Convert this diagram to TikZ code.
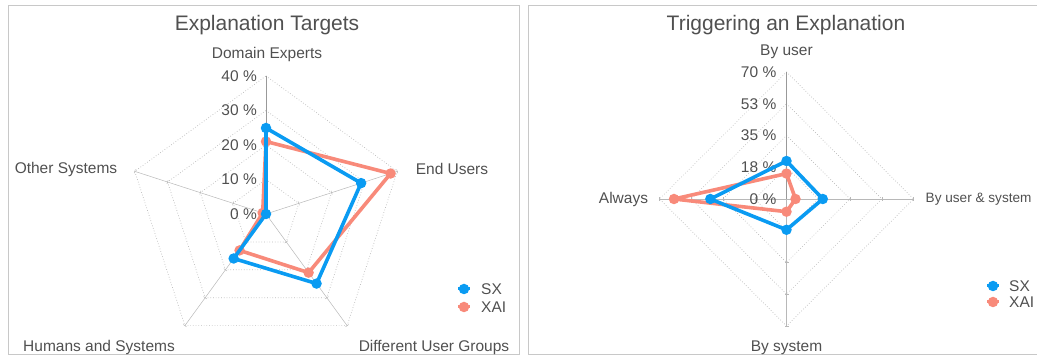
\documentclass[tikz,border=0pt]{standalone}
\usepackage{fontspec}
\setmainfont{Liberation Sans}
\definecolor{sxblue}{HTML}{0A9BF2}
\definecolor{xaisalmon}{HTML}{F88A7A}
\definecolor{txtgray}{HTML}{505050}
\definecolor{gridgray}{HTML}{B8B8B8}
\definecolor{framegray}{HTML}{C8C8C8}

\begin{document}
\begin{tikzpicture}[x=1pt,y=1pt,
    lbl/.style={text=txtgray,font=\fontsize{15.5}{18}\selectfont,inner sep=0pt},
    ttl/.style={text=txtgray,font=\fontsize{21}{24}\selectfont,inner sep=0pt},
    gridline/.style={gridgray,dotted,line width=0.7pt},
    spoke/.style={gridgray,line width=0.5pt},
    mainaxis/.style={gray!80,line width=1pt},
    sxline/.style={sxblue,line width=3.6pt,line join=round},
    xailine/.style={xaisalmon,line width=3.6pt,line join=round},
    sxdot/.style={circle,fill=sxblue,inner sep=0pt,minimum size=10.5pt},
    xaidot/.style={circle,fill=xaisalmon,inner sep=0pt,minimum size=10.5pt}]
\useasboundingbox (0,0) rectangle (1037,356);
\draw[framegray,line width=1pt] (8,1) rectangle (519,350);
\draw[framegray,line width=1pt] (1040,350) -- (528,350) -- (528,1) -- (1040,1);

% left chart: explanation targets
\node[ttl] (title1) at (267,331) {Explanation Targets};
\begin{scope}[shift={(266,142)}]
    \foreach \r in {34.5,69,103.5,138}
        \draw[gridline] (90:\r) -- (18:\r) -- (-54:\r) -- (-126:\r) -- (162:\r) -- cycle;
    \foreach \a in {18,-54,-126,162}{
        \draw[spoke] (0,0) -- (\a:138);
        \foreach \r in {34.5,69,103.5,138}
            \draw[spoke] (\a:\r) ++(\a+90:2) -- ++(\a-90:4);
    }
    \draw[mainaxis] (0,0) -- (90:138);
    \foreach \v [count=\i from 0] in {0,10,20,30,40}
        \node[lbl,anchor=east] (pa\i) at (-9,\i*34.5) {\v~\%};
    \node[lbl] (de) at (1,160) {Domain Experts};
    \node[lbl] (eu) at (186,45) {End Users};
    \node[lbl] (os) at (-200,45) {Other Systems};
    \node[lbl] (hs) at (-167,-133) {Humans and Systems};
    \node[lbl] (dug) at (168,-133) {Different User Groups};
    % XAI
    \node[xaidot] (xa1) at (90:72.5) {};
    \node[xaidot] (xa2) at (18:131) {};
    \node[xaidot] (xa3) at (-54:72.5) {};
    \node[xaidot] (xa4) at (-126:45) {};
    \node[xaidot] (xa5) at (162:3.5) {};
    \draw[xailine] (xa1.center) -- (xa2.center) -- (xa3.center) -- (xa4.center) -- (xa5.center) -- cycle;
    % SX
    \node[sxdot] (sa1) at (90:86) {};
    \node[sxdot] (sa2) at (18:100) {};
    \node[sxdot] (sa3) at (-54:86) {};
    \node[sxdot] (sa4) at (-126:55) {};
    \node[sxdot] (sa5) at (0,0) {};
    \draw[sxline] (sa1.center) -- (sa2.center) -- (sa3.center) -- (sa4.center) -- (sa5.center) -- cycle;
\end{scope}
% legend left
\draw[sxblue,line width=3pt] (458,67) -- (470,67);
\node[sxdot] (lsx1) at (464,67) {};
\node[lbl,anchor=west] (lsxt1) at (481,67) {SX};
\draw[xaisalmon,line width=3pt] (458,49) -- (470,49);
\node[xaidot] (lxa1) at (464,49) {};
\node[lbl,anchor=west] (lxat1) at (481,49) {XAI};

% right chart: triggering an explanation
\node[ttl] (title2) at (786,331) {Triggering an Explanation};
\begin{scope}[shift={(786.5,157)}]
    \foreach \r in {31.75,63.5,95.25,127}
        \draw[gridline] (90:\r) -- (0:\r) -- (-90:\r) -- (180:\r) -- cycle;
    \foreach \a in {0,-90,180}{
        \draw[spoke] (0,0) -- (\a:127);
        \foreach \r in {31.75,63.5,95.25,127}
            \draw[spoke] (\a:\r) ++(\a+90:2) -- ++(\a-90:4);
    }
    \draw[mainaxis] (0,0) -- (90:127);
    \foreach \v [count=\i from 0] in {0,18,35,53,70}
        \node[lbl,anchor=east] (pb\i) at (-10,\i*31.75) {\v~\%};
    \node[lbl] (byuser) at (0,147) {By user};
    \node[lbl,anchor=west,font=\fontsize{13.6}{16}\selectfont] (byboth) at (139,0) {By user \& system};
    \node[lbl] (always) at (-163,0) {Always};
    \node[lbl] (bysys) at (0,-149) {By system};
    % XAI
    \node[xaidot] (xb1) at (90:25.4) {};
    \node[xaidot] (xb2) at (0:9) {};
    \node[xaidot] (xb3) at (-90:12.7) {};
    \node[xaidot] (xb4) at (180:112.5) {};
    \draw[xailine] (xb1.center) -- (xb2.center) -- (xb3.center) -- (xb4.center) -- cycle;
    % SX
    \node[sxdot] (sb1) at (90:38) {};
    \node[sxdot] (sb2) at (0:36.3) {};
    \node[sxdot] (sb3) at (-90:30.8) {};
    \node[sxdot] (sb4) at (180:76.2) {};
    \draw[sxline] (sb1.center) -- (sb2.center) -- (sb3.center) -- (sb4.center) -- cycle;
\end{scope}
% legend right
\draw[sxblue,line width=3pt] (987,70) -- (999,70);
\node[sxdot] (lsx2) at (993,70) {};
\node[lbl,anchor=west] (lsxt2) at (1009,70) {SX};
\draw[xaisalmon,line width=3pt] (987,54) -- (999,54);
\node[xaidot] (lxa2) at (993,54) {};
\node[lbl,anchor=west] (lxat2) at (1009,54) {XAI};
\end{tikzpicture}
\end{document}
